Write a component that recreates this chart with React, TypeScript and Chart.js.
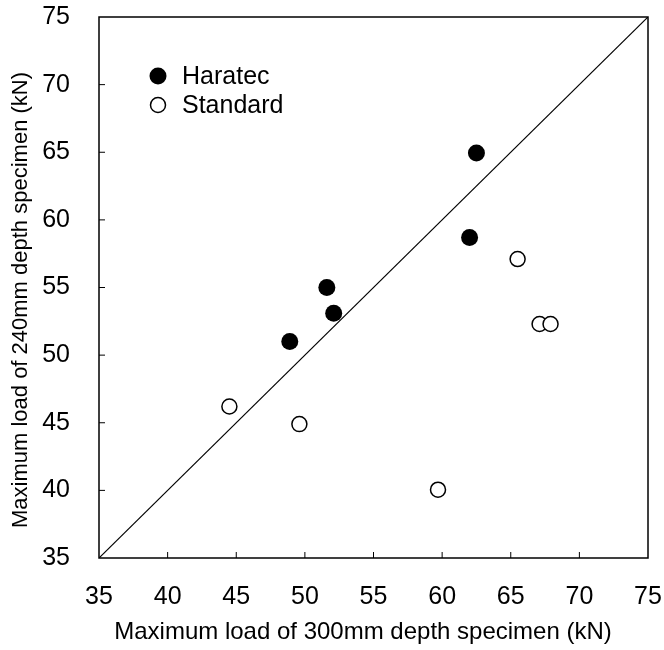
import React, { useEffect, useRef } from "react";
import { Chart, registerables } from "chart.js";

Chart.register(...registerables);

const haratecX = [48.9, 51.6, 52.1, 62.0, 62.5];
const haratecY = [51.0, 55.0, 53.1, 58.7, 64.95];
const standardX = [44.5, 49.6, 59.7, 65.5, 67.1, 67.9];
const standardY = [46.2, 44.9, 40.05, 57.1, 52.3, 52.3];
const lineX = [35, 75];
const lineY = [35, 75];
const axisMin = 35;
const axisMax = 75;
const tickStep = 5;
const xTitle = "Maximum load of 300mm depth specimen (kN)";
const yTitle = "Maximum load of 240mm depth specimen (kN)";
const legendLabels = ["Haratec", "Standard"];

const FONT = '"Liberation Sans", Arial, Helvetica, sans-serif';

const framePlugin = {
  id: "frame",
  afterDraw(chart: any) {
    const { ctx, chartArea, scales } = chart;
    const { left, right, top, bottom } = chartArea;
    ctx.save();
    ctx.strokeStyle = "#000";
    ctx.lineWidth = 1.5;
    ctx.strokeRect(left, top, right - left, bottom - top);
    // inward ticks
    ctx.lineWidth = 1;
    for (let v = axisMin + tickStep; v < axisMax; v += tickStep) {
      const px = scales.x.getPixelForValue(v);
      ctx.beginPath();
      ctx.moveTo(px, bottom);
      ctx.lineTo(px, bottom - 6);
      ctx.stroke();
      const py = scales.y.getPixelForValue(v);
      ctx.beginPath();
      ctx.moveTo(left, py);
      ctx.lineTo(left + 6, py);
      ctx.stroke();
    }
    // axis titles
    ctx.fillStyle = "#000";
    ctx.textBaseline = "middle";
    ctx.textAlign = "center";
    ctx.font = `24px ${FONT}`;
    ctx.fillText(xTitle, 363, 632);
    ctx.save();
    ctx.translate(21, 300);
    ctx.rotate(-Math.PI / 2);
    ctx.font = `22px ${FONT}`;
    ctx.fillText(yTitle, 0, 0);
    ctx.restore();
    // legend
    ctx.textAlign = "left";
    ctx.font = `25px ${FONT}`;
    ctx.beginPath();
    ctx.arc(158, 76, 8.5, 0, Math.PI * 2);
    ctx.fillStyle = "#000";
    ctx.fill();
    ctx.fillText(legendLabels[0], 182, 77);
    ctx.beginPath();
    ctx.arc(158, 105, 7.5, 0, Math.PI * 2);
    ctx.fillStyle = "#fff";
    ctx.fill();
    ctx.lineWidth = 1.5;
    ctx.stroke();
    ctx.fillStyle = "#000";
    ctx.fillText(legendLabels[1], 182, 106);
    ctx.restore();
  },
};

export default function App() {
  const ref = useRef<HTMLCanvasElement>(null);
  useEffect(() => {
    if (!ref.current) return;
    const chart = new Chart(ref.current, {
      type: "scatter",
      data: {
        datasets: [
          {
            label: legendLabels[0],
            data: haratecX.map((x, i) => ({ x, y: haratecY[i] })),
            backgroundColor: "#000",
            borderColor: "#000",
            pointRadius: 8.5,
            borderWidth: 0,
            order: 0,
          },
          {
            label: legendLabels[1],
            data: standardX.map((x, i) => ({ x, y: standardY[i] })),
            backgroundColor: "#fff",
            borderColor: "#000",
            pointRadius: 7.5,
            borderWidth: 1.5,
            order: 1,
          },
          {
            type: "line",
            label: "1:1",
            data: lineX.map((x, i) => ({ x, y: lineY[i] })),
            borderColor: "#000",
            borderWidth: 1.2,
            pointRadius: 0,
            showLine: true,
            order: 2,
          } as any,
        ],
      },
      options: {
        animation: false,
        responsive: false,
        maintainAspectRatio: false,
        layout: { padding: { top: 17, right: 16, left: 0, bottom: 0 } },
        plugins: {
          legend: { display: false },
          tooltip: { enabled: false },
        },
        scales: {
          x: {
            type: "linear",
            min: axisMin,
            max: axisMax,
            border: { display: false },
            grid: { display: false, drawTicks: false },
            ticks: {
              stepSize: tickStep,
              color: "#000",
              padding: 24,
              maxRotation: 0,
              font: { family: FONT, size: 25 },
            },
            afterFit(scale: any) {
              scale.height = 92;
              scale.paddingLeft = 0;
              scale.paddingRight = 0;
            },
          },
          y: {
            type: "linear",
            min: axisMin,
            max: axisMax,
            border: { display: false },
            grid: { display: false, drawTicks: false },
            ticks: {
              stepSize: tickStep,
              color: "#000",
              padding: 29,
              font: { family: FONT, size: 25 },
            },
            afterFit(scale: any) {
              scale.width = 99;
              scale.paddingTop = 0;
              scale.paddingBottom = 0;
            },
          },
        },
      },
      plugins: [framePlugin],
    });
    return () => chart.destroy();
  }, []);
  return (
    <div style={{ position: "absolute", left: 0, top: 0, width: 664, height: 650, background: "#fff" }}>
      <canvas ref={ref} width={664} height={650} style={{ width: 664, height: 650, display: "block" }} />
    </div>
  );
}
